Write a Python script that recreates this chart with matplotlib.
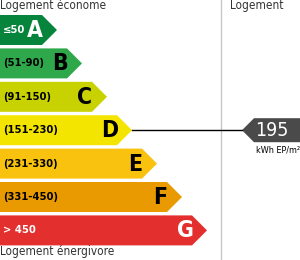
import numpy as np
import matplotlib
matplotlib.use("Agg")
import matplotlib.pyplot as plt
from matplotlib.patches import Polygon

# energy classes (kWh EP/m2.an)
letters = ["A", "B", "C", "D", "E", "F", "G"]
ranges = ["≤50", "(51-90)", "(91-150)", "(151-230)", "(231-330)", "(331-450)", "> 450"]
upper = [50, 90, 150, 230, 330, 450, np.inf]
colors = ["#07843c", "#2ea84a", "#c8d200", "#f4e500", "#f9c20f", "#e99a00", "#e3302f"]
text_colors = ["white", "black", "black", "black", "black", "black", "white"]
value = 195
unit = "kWh EP/m²"

plt.rcParams["font.family"] = ["DejaVu Sans"]
plt.rcParams["font.stretch"] = "condensed"

fig = plt.figure(figsize=(3.0, 2.6), dpi=100)
ax = fig.add_axes([0, 0, 1, 1])
ax.set_xlim(0, 300)
ax.set_ylim(260, 0)
ax.axis("off")

row_h = 30
pitch = 33.4
y0 = 15
body0 = 42
step = 25

def row_geom(i):
    top = y0 + i * pitch
    body = body0 + step * i
    return top, body

for i, (lt, rg, c, tc) in enumerate(zip(letters, ranges, colors, text_colors)):
    top, body = row_geom(i)
    mid = top + row_h / 2
    pts = [(0, top), (body, top), (body + row_h / 2, mid), (body, top + row_h), (0, top + row_h)]
    ax.add_patch(Polygon(pts, closed=True, facecolor=c, edgecolor="none"))
    ax.text(3, mid, rg, color=tc, fontsize=8, fontweight="bold", va="center", ha="left")
    ax.text(body - 7, mid + 0.5, lt, color=tc, fontsize=16.5, fontweight="bold", va="center", ha="center")

# which class holds the value
k = next(i for i, u in enumerate(upper) if value <= u)
top, body = row_geom(k)
mid = top + row_h / 2

# separator column
ax.plot([220.5, 220.5], [0, 260], color="#c8c8c8", lw=1)

# marker
m_tip = 242
m_body = 254
m_half = 12
ax.plot([body + row_h / 2, m_tip], [mid, mid], color="black", lw=1)
mpts = [(m_tip, mid), (m_body, mid - m_half), (300, mid - m_half), (300, mid + m_half), (m_body, mid + m_half)]
ax.add_patch(Polygon(mpts, closed=True, facecolor="#4a4a4a", edgecolor="none"))
ax.text(272, mid, str(value), color="white", fontsize=14, va="center", ha="center")
ax.text(256, mid + m_half + 8, unit, color="black", fontsize=6.5, va="center", ha="left")

ax.text(0, 9, "Logement économe", color="#333333", fontsize=8.5, va="baseline", ha="left")
ax.text(0, 255, "Logement énergivore", color="#333333", fontsize=8.5, va="baseline", ha="left")
ax.text(230, 9, "Logement", color="#333333", fontsize=8.5, va="baseline", ha="left")

fig.savefig("out.png", dpi=100)
